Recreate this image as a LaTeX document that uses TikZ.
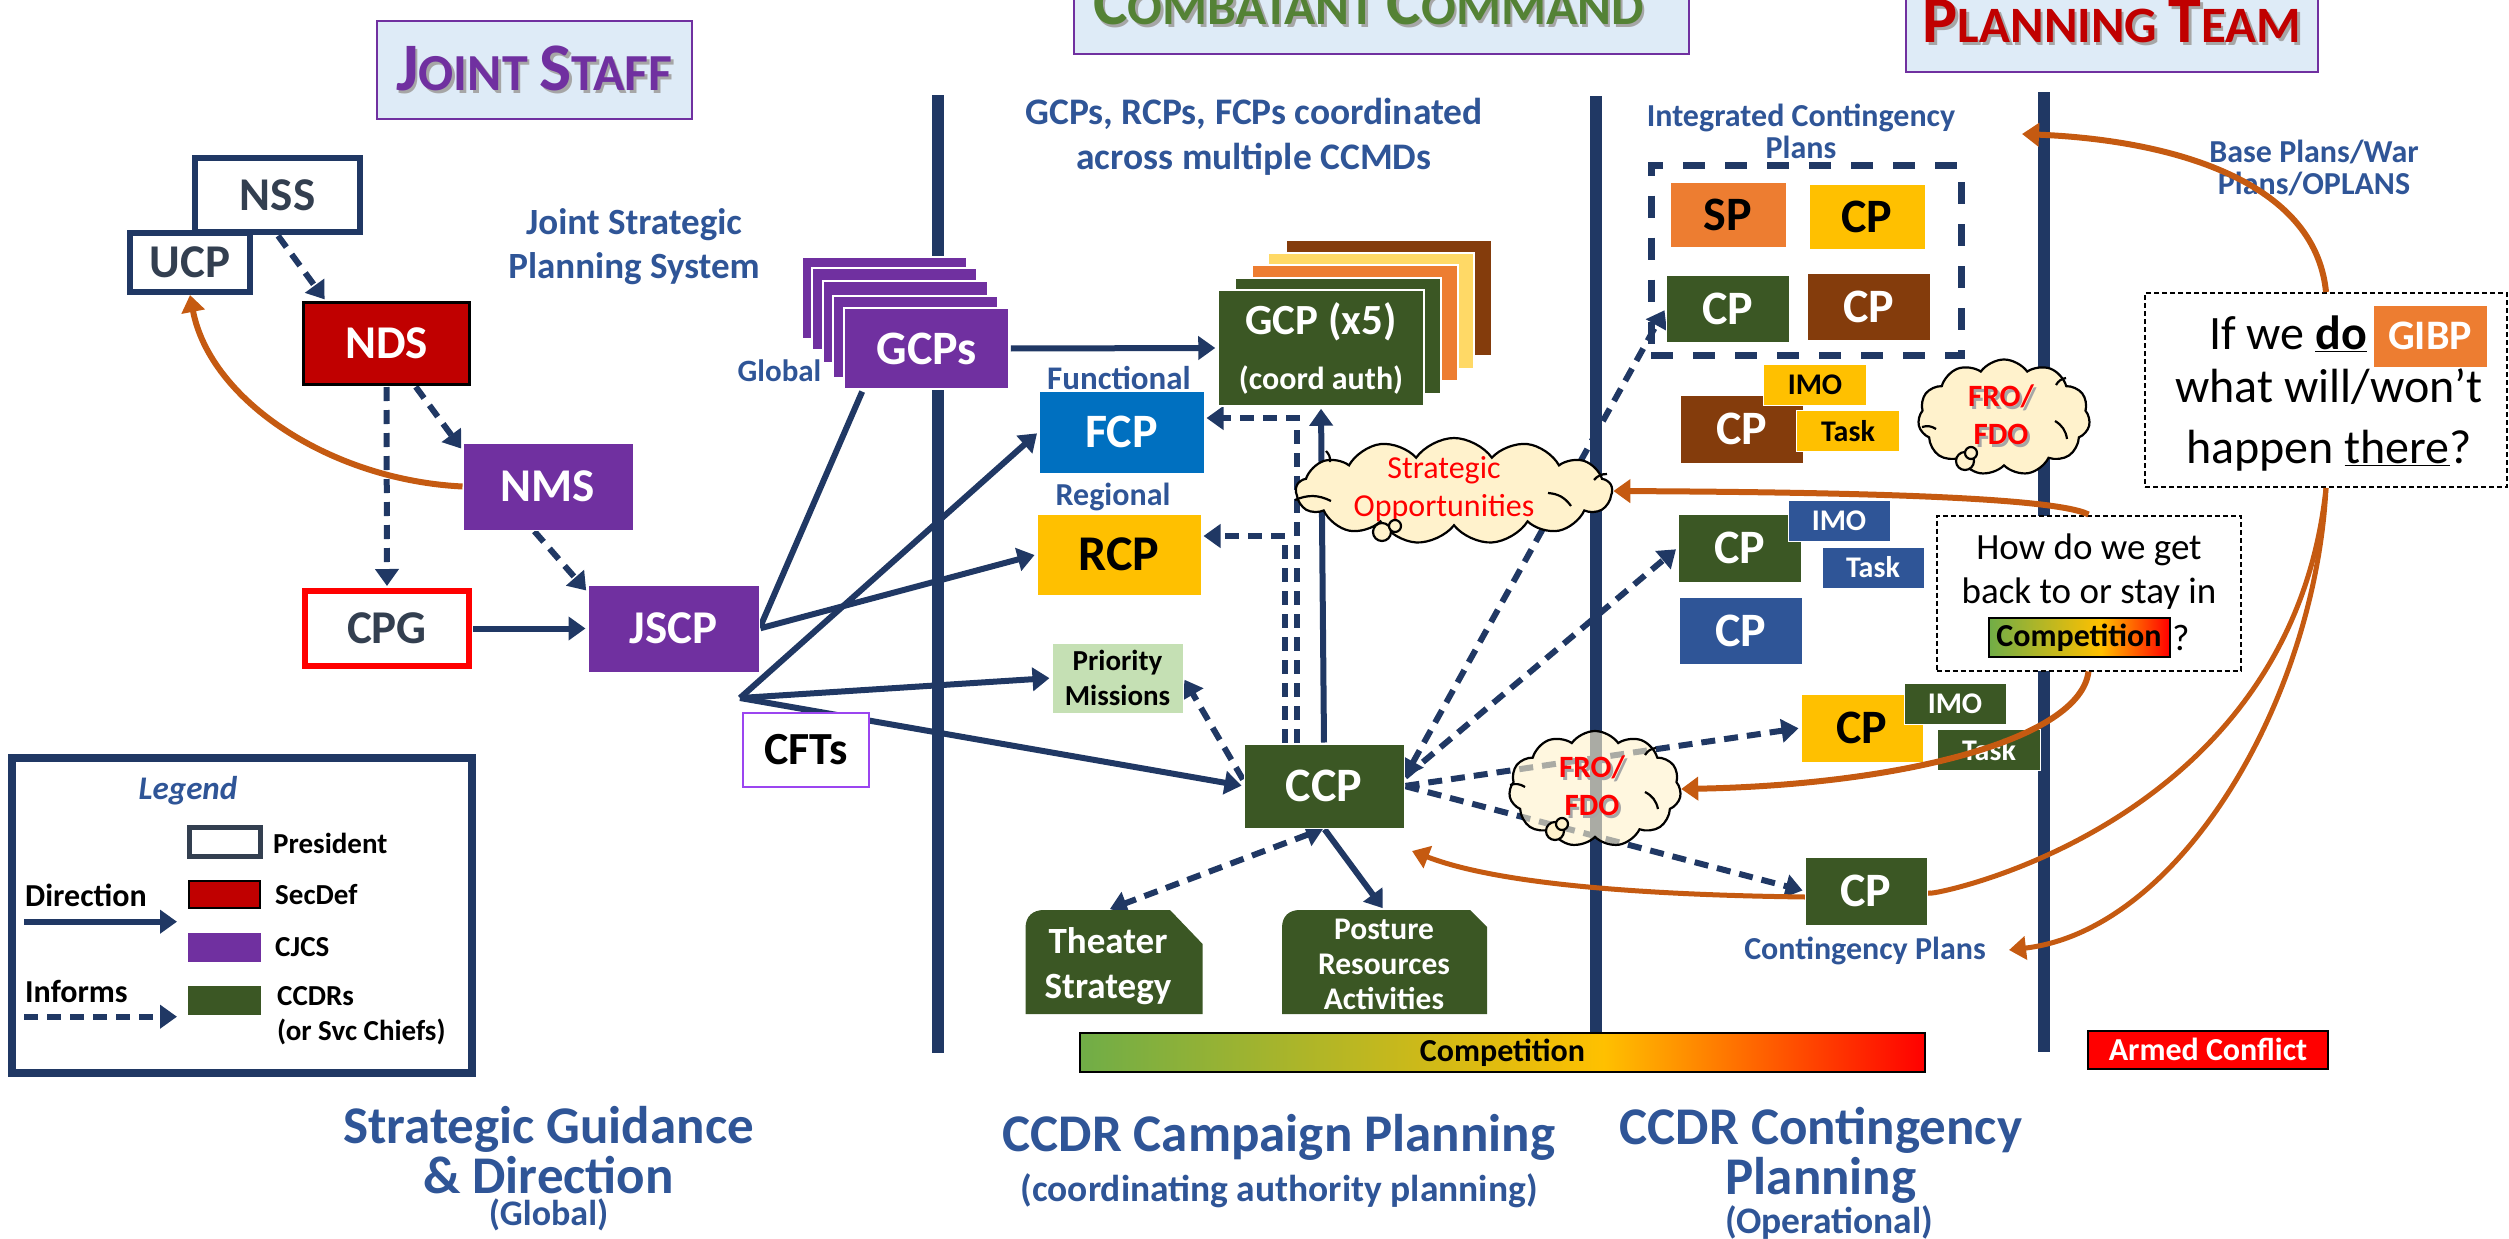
\documentclass[tikz,border=0pt]{standalone}
\usepackage{fontspec}
\setmainfont{Carlito}
\usetikzlibrary{positioning,arrows.meta,shapes.symbols,backgrounds}
\definecolor{navyline}{HTML}{203864}
\definecolor{bluetext}{HTML}{2F5597}
\definecolor{cjcspurple}{HTML}{7030A0}
\definecolor{secred}{HTML}{C00000}
\definecolor{ccdrgreen}{HTML}{3B5724}
\definecolor{feedback}{HTML}{C55A11}
\definecolor{goldfill}{HTML}{FFC000}
\definecolor{orangefill}{HTML}{ED7D31}
\definecolor{brownfill}{HTML}{843C0C}
\definecolor{paleyellow}{HTML}{FFD966}
\definecolor{palegreen}{HTML}{C5E0B4}
\definecolor{fcpblue}{HTML}{0070C0}
\definecolor{headfill}{HTML}{DEEBF7}
\definecolor{headgreen}{HTML}{548235}
\definecolor{compgreen}{HTML}{70AD47}
\definecolor{cloudfill}{HTML}{FFF2CC}
\definecolor{slatetext}{HTML}{333F50}
\definecolor{cftborder}{HTML}{9B45F0}
\pgfdeclarehorizontalshading{compshade}{100bp}{color(0bp)=(compgreen);color(25bp)=(compgreen);color(56bp)=(goldfill);color(75bp)=(red);color(100bp)=(red)}
\newcommand*{\fs}[2]{\fontsize{#1}{#2}\selectfont}
\newcommand*{\softshadow}[2]{\leavevmode\rlap{\raisebox{-2.5pt}{\kern2.5pt\textcolor{black!35}{#2}}}\textcolor{#1}{#2}}
\tikzset{
  wh/.style 2 args={minimum width=#1pt, minimum height=#2pt},
  planbox/.style={draw=white, line width=1pt, inner sep=0pt, align=center, font=\bfseries\fs{48}{50}},
  greenbox/.style={planbox, fill=ccdrgreen, text=white},
  brownbox/.style={planbox, fill=brownfill, text=white},
  bluebox/.style={planbox, fill=bluetext, text=white},
  goldbox/.style={planbox, fill=goldfill, text=black},
  purplebox/.style={planbox, fill=cjcspurple, text=white},
  tagfont/.style={font=\bfseries\fs{30}{32}},
  linebox/.style={draw=navyline, line width=6pt, fill=white, inner sep=0pt, text=slatetext, font=\bfseries\fs{47}{48}},
  headbox/.style={draw=cjcspurple, line width=2pt, fill=headfill, inner sep=0pt, font=\bfseries},
  bluelabel/.style={text=bluetext, align=center, inner sep=0pt, font=\bfseries\fs{32}{32}},
  looplabel/.style={text=bluetext, align=center, inner sep=0pt, font=\bfseries\fs{53}{50}},
  legendlabel/.style={anchor=west, inner sep=0pt, align=left, font=\bfseries\fs{29}{35}},
  askbox/.style={draw=black, line width=2pt, dash pattern=on 5pt off 3pt, fill=white, inner sep=0pt},
  asktext/.style={inner sep=0pt, align=center},
  direct/.style={draw=navyline, line width=6pt, -{Triangle[length=17pt,width=23pt]}, shorten >=2pt, shorten <=1pt},
  inform/.style={direct, dash pattern=on 14pt off 9pt},
  feedarrow/.style={draw=feedback, line width=6pt, -{Triangle[length=17pt,width=23pt]}},
  planbar/.style={fill=navyline},
  thought/.style={cloud, draw=black, line width=2.2pt, fill=cloudfill, cloud puffs=13, cloud puff arc=110, inner sep=0pt},
  puffline/.style={draw=black, line width=2.2pt, fill=cloudfill},
  cloudarc/.style={draw=black, line width=2.2pt},
  redlabel/.style={text=red, align=center, inner sep=0pt},
}
\begin{document}
\begin{tikzpicture}[x=1pt,y=-1pt]
  \useasboundingbox (0,0) rectangle (2509,1239);

  % column headings
  \node[headbox, wh={315}{98}] (jointstaff) at (534.5,70)
    {\softshadow{cjcspurple}{\fs{68}{70}J\fs{52}{70}OINT \fs{68}{70}S\fs{52}{70}TAFF}};
  \node[headbox, wh={615}{98}] (combatcmd) at (1381.5,5)
    {\hspace*{-26pt}\softshadow{headgreen}{\fs{65}{70}C\fs{51.5}{70}OMBATANT \fs{65}{70}C\fs{51.5}{70}OMMAND}};
  \node[headbox, wh={412}{98}] (planteam) at (2112,23)
    {\softshadow{secred}{\fs{66}{70}P\fs{51}{70}LANNING \fs{66}{70}T\fs{51}{70}EAM}};

  % strategic guidance column
  \node[linebox, wh={165}{74}] (nss) at (277.5,195) {NSS};
  \node[linebox, wh={120}{59}] (ucp) at (190,262.5) {UCP};
  \node[planbox, draw=black, line width=3pt, fill=secred, text=white, font=\bfseries\fs{47}{48}, wh={166}{82}] (nds) at (386.5,343.5) {NDS};
  \node[purplebox, font=\bfseries\fs{47}{48}, wh={170}{87}] (nms) at (548,486.5) {NMS};
  \node[purplebox, font=\bfseries\fs{47}{48}, wh={171}{87}] (jscp) at (673.5,628.5) {JSCP};
  \node[linebox, draw=red, wh={164}{75}] (cpg) at (387,628.5) {CPG};
  \node[bluelabel, font=\bfseries\fs{37}{44}] (jspslabel) at (634,247) {Joint Strategic\\Planning System};
  \node[planbox, draw=cftborder, line width=2.5pt, fill=white, text=black, font=\bfseries\fs{46}{48}, wh={126}{74}] (cfts) at (806,750) {CFTs};

  % campaign planning column
  \foreach \sx/\sy in {802/257,812/268,823/281,833/296}
    \filldraw[fill=cjcspurple, draw=white, line width=1.5pt] (\sx,\sy) rectangle +(165,82);
  \node[purplebox, line width=1.5pt, wh={165}{81}] (gcps) at (926.5,348.5) {GCPs};
  \node[bluelabel, font=\bfseries\fs{31}{32}] (globallabel) at (779.5,371) {Global};
  \foreach \sx/\sy/\sc in {1286/240/brownfill,1268/253/paleyellow,1252/265/orangefill,1235/278/ccdrgreen}
    \filldraw[fill=\sc, draw=white, line width=1.5pt] (\sx,\sy) rectangle +(206,116);
  \node[greenbox, line width=1.5pt, font=\bfseries\fs{43}{55}, wh={206}{116}] (gcpfive) at (1321,348)
    {GCP (x5)\\{\fs{32}{32}(coord auth)}};
  \node[bluelabel, font=\bfseries\fs{33}{32}] (fcplabel) at (1119,378) {Functional};
  \node[planbox, fill=fcpblue, text=white, wh={165}{82}] (fcp) at (1121.5,432) {FCP};
  \node[bluelabel] (rcplabel) at (1113,497) {Regional};
  \node[goldbox, font=\bfseries\fs{50}{50}, wh={164}{81}] (rcp) at (1119,554.5) {RCP};
  \node[planbox, fill=palegreen, text=black, font=\bfseries\fs{29}{35}, wh={131}{70}] (priority) at (1117.5,678) {Priority\\Missions};
  \node[greenbox, wh={160}{84}] (ccp) at (1324,786) {CCP};
  \fill[ccdrgreen] (1025.5,1014) -- (1025.5,928) .. controls (1025.5,916) and (1033,910) .. (1044,910)
    -- (1170,910) -- (1202.6,944) -- (1202.6,1014) -- cycle;
  \fill[ccdrgreen] (1282,1014) -- (1282,928) .. controls (1282,916) and (1289,910) .. (1300,910)
    -- (1470,910) -- (1487,927) -- (1487,1014) -- cycle;
  \node[inner sep=0pt, align=center, text=white, font=\bfseries\fs{37}{45}, wh={177}{112}] (theater) at (1108,966) {Theater\\Strategy};
  \node[inner sep=0pt, align=center, text=white, font=\bfseries\fs{31.5}{35}, wh={205}{108}] (posture) at (1384,964) {Posture\\Resources\\Activities};
  \node[bluelabel, font=\bfseries\fs{37.5}{45}] (ccmdlabel) at (1254,137) {GCPs, RCPs, FCPs coordinated\\across multiple CCMDs};

  % contingency plans
  \node[bluelabel] (icplabel) at (1801,131) {Integrated Contingency\\Plans};
  \node[draw=navyline, line width=7pt, dash pattern=on 22pt off 20pt, wh={310}{190}] (icpgroup) at (1806,260.5) {};
  \node[planbox, fill=orangefill, text=black, wh={116}{65}] (spbox) at (1728,214.5) {SP};
  \node[goldbox, wh={116}{65}] (cpgold) at (1867,217) {CP};
  \node[greenbox, wh={123}{67}] (cpgreen) at (1727.5,308.5) {CP};
  \node[brownbox, wh={123}{67}] (cpbrown) at (1869,306.5) {CP};
  \node[brownbox, wh={123}{68}] (cpbrowntwo) at (1741.5,429) {CP};
  \node[goldbox, tagfont, wh={103}{41}] (imogold) at (1815,385) {IMO};
  \node[goldbox, tagfont, wh={103}{41}] (taskgold) at (1848,431) {Task};
  \node[greenbox, wh={123}{68}] (cpgreentwo) at (1739.5,548) {CP};
  \node[bluebox, tagfont, wh={102}{41}] (imoblue) at (1839,521) {IMO};
  \node[bluebox, tagfont, wh={102}{41}] (taskblue) at (1873,567.5) {Task};
  \node[bluebox, wh={123}{67}] (cpblue) at (1740.5,631) {CP};
  \node[goldbox, wh={122}{68}] (cpgoldtwo) at (1862,728) {CP};
  \node[greenbox, tagfont, wh={102}{41}] (imogreen) at (1955,703.5) {IMO};
  \node[greenbox, tagfont, wh={103}{41}] (taskgreen) at (1989,750) {Task};
  \node[greenbox, wh={122}{68}] (cpfinal) at (1866,891) {CP};
  \node[bluelabel] (cplabel) at (1865,951) {Contingency Plans};
  \node[bluelabel] (oplabel) at (2314,168) {Base Plans/War\\Plans/OPLANS};

  % question boxes
  \node[askbox, wh={362}{194}] (doask) at (2326,390) {};
  \node[asktext, anchor=east, font=\fs{48}{50}] (dotext) at (2367,334) {If we \textbf{\underline{do}}};
  \node[planbox, fill=orangefill, text=white, font=\bfseries\fs{42}{46}, wh={114}{62}] (gibp) at (2430,336) {GIBP};
  \node[asktext, font=\fs{48}{61}] (willtext) at (2329,420) {what will/won’t\\happen \underline{there}?};
  \node[askbox, wh={304}{155}] (howask) at (2088.5,593) {};
  \node[asktext, font=\fs{37}{44}] (howtext) at (2089,572) {How do we get\\back to or stay in};
  \node[draw=black, line width=2pt, shading=compshade, inner sep=0pt, text=black, font=\bfseries\fs{32}{36}, wh={181}{39}] (howcomp) at (2079,637.5) {Competition};
  \node[asktext, font=\fs{37}{44}] (howmark) at (2181,637.5) {?};

  % bands along the bottom
  \node[draw=black, line width=2pt, shading=compshade, inner sep=0pt, text=black, font=\bfseries\fs{32}{36}, wh={845}{39}] (compbar) at (1502.5,1052.5) {Competition};
  \node[draw=black, line width=2pt, fill=red, inner sep=0pt, text=white, font=\bfseries\fs{32}{32}, wh={240}{38}] (armedbar) at (2208,1049.5) {Armed Conflict};
  \node[looplabel] (sgdlabel) at (548.5,1150) {Strategic Guidance\\\& Direction};
  \node[looplabel, font=\bfseries\fs{36}{36}] (sgdsub) at (548.5,1215) {(Global)};
  \node[looplabel] (ccplabel) at (1279,1137) {CCDR Campaign Planning};
  \node[looplabel, font=\bfseries\fs{37.5}{38}] (ccpsub) at (1279,1191) {(coordinating authority planning)};
  \node[looplabel] (conlabel) at (1821,1155) {CCDR Contingency\\Planning};
  \node[looplabel, font=\bfseries\fs{37.5}{36}] (consub) at (1829,1223) {(Operational)};

  % legend
  \node[draw=navyline, line width=8pt, wh={460}{315}] (legend) at (241.5,915.5) {};
  \node[inner sep=0pt, text=bluetext, font=\bfseries\itshape\fs{33}{34}] (legendtitle) at (188,791) {Legend};
  \node[draw=slatetext, line width=5pt, fill=white, wh={71}{29}] (swpres) at (224.5,841.5) {};
  \node[draw=black, line width=2.5pt, fill=secred, wh={71}{27}] (swsec) at (224.5,894.5) {};
  \node[fill=cjcspurple, wh={73}{29}] (swcjcs) at (224.5,947.5) {};
  \node[fill=ccdrgreen, wh={73}{29}] (swccdr) at (224.5,1000.5) {};
  \node[legendlabel] (lgpres) at (273,843) {President};
  \node[legendlabel] (lgsec) at (275,894.5) {SecDef};
  \node[legendlabel] (lgcjcs) at (275,947) {CJCS};
  \node[legendlabel] (lgccdr) at (277,1015.5) {CCDRs\\(or Svc Chiefs)};
  \node[legendlabel, font=\bfseries\fs{32}{32}] (lgdir) at (25,895) {Direction};
  \node[legendlabel, font=\bfseries\fs{32}{32}] (lginf) at (25,991) {Informs};
  \coordinate (dirfrom) at (24,921.7);
  \coordinate (dirto) at (179,921.7);
  \coordinate (inffrom) at (24,1016.7);
  \coordinate (infto) at (179,1016.7);
  \draw[direct, shorten <=0pt] (dirfrom) -- (dirto);
  \draw[inform, shorten <=0pt] (inffrom) -- (infto);

  % clouds
  \node[thought, aspect=3, wh={316}{106}] (stratcloud) at (1454,491) {};
  \node[redlabel, font=\fs{32}{38}] (strattext) at (1444,489) {Strategic\\Opportunities};
  \node[thought, cloud puffs=11, aspect=1.5, wh={172}{116}] (frohigh) at (2004,417.5) {};
  \node[redlabel, font=\bfseries\fs{31}{38}] (frohightext) at (2001,416) {\softshadow{red}{FRO/}\\\softshadow{red}{FDO}};
  \node[thought, cloud puffs=11, aspect=1.5, fill opacity=.62, text opacity=1, wh={172}{116}] (frolow) at (1595,789) {};
  \node[redlabel, font=\bfseries\fs{31}{38}] (frolowtext) at (1592,787) {\softshadow{red}{FRO/}\\\softshadow{red}{FDO}};
  \foreach \px/\py/\pr in {1382/532/9,1395/526/6,1965/461/9,1971/453/6,1555/831/9,1562/824/6}
    \filldraw[puffline] (\px,\py) circle (\pr pt);
  \foreach \cx/\cy/\dx/\dy in {1548/493/1571/506,1295/500/1331/501,1594/480/1607/474,1326/451/1330/462,
      2055/421/2067/439,1922/427/1936/429,2056/385/2066/378,1645/792/1658/809,1510/785/1525/787,1645/755/1656/748}
    \draw[cloudarc] (\cx,\cy) to[bend left=25] (\dx,\dy);

  % feedback arrows drawn over the plans
  \coordinate (icptip) at (2022,134);
  \coordinate (altip) at (2009,950);
  \draw[feedarrow] (doask.north) .. controls (2315,180) and (2170,140) .. (icptip);
  \draw[feedarrow] (howask.north) .. controls (2050,495) and (1800,492) .. (stratcloud.east);
  \draw[feedarrow] (howask.south) .. controls (2080,740) and (1900,785) .. (frolow.east);
  \draw[feedarrow, line width=5pt] (doask.south) .. controls (2315,700) and (2180,930) .. (altip);
  \draw[feedarrow] (nms.west) .. controls (330,480) and (210,400) .. (ucp.south);

  \begin{scope}[on background layer]
    \fill[planbar] (931.5,95) rectangle (943.5,1053);
    \fill[planbar] (1590,96) rectangle (1602,1033);
    \fill[planbar] (2038,92) rectangle (2050,1052);
    \coordinate (fcpturn) at (1297,418);
    \coordinate (rcpturn) at (1285,536);
    \coordinate (fan) at (740,698);
    \coordinate (cptip) at (1412,851);
    \coordinate (cpjoin) at (1930,893);
    % from the national level down
    \draw[inform] (nss.south) -- (nds.145);
    \draw[inform] (nds.south) -- (cpg.north);
    \draw[inform] (nds.-56.6) -- (nms.157);
    \draw[inform] (nms.-108) -- (jscp.157);
    \draw[direct] (cpg.east) -- (jscp.west);
    \draw[direct, -] (jscp.east) -- (gcps.-147);
    \draw[direct] (jscp.east) -- (rcp.west);
    \draw[direct, shorten <=0pt] (fan) -- (fcp.west);
    \draw[direct, shorten <=0pt] (fan) -- (priority.west);
    \draw[direct, shorten <=0pt] (fan) -- (ccp.west);
    \draw[direct] (gcps.east) -- (gcpfive.west);
    % out of the campaign plan
    \draw[direct] (ccp.north) -- (gcpfive.south);
    \draw[inform] (fcpturn |- ccp.north) -- (fcpturn) -- (fcpturn -| fcp.east);
    \draw[inform] (rcpturn |- ccp.north) -- (rcpturn) -- (rcpturn -| rcp.east);
    \draw[inform] (ccp.176) -- (priority.east);
    \draw[inform, <->, >={Triangle[length=17pt,width=23pt]}] (ccp.south) -- (theater.north);
    \draw[direct] (ccp.south) -- (posture.north);
    \draw[inform, <->, >={Triangle[length=17pt,width=23pt]}] (ccp.6) -- (cpgreen.west);
    \draw[inform] (ccp.6) -- (cpgreentwo.west);
    \draw[inform] (ccp.east) -- (cpgoldtwo.west);
    \draw[inform] (ccp.east) -- (cpfinal.west);
    \draw[feedarrow, line width=5pt] (doask.south) .. controls (2290,830) and (1925,897) .. (cpjoin)
      .. controls (1880,899) and (1840,898) .. (1805,897)
      .. controls (1650,895) and (1500,885) .. (cptip);
  \end{scope}
\end{tikzpicture}
\end{document}
